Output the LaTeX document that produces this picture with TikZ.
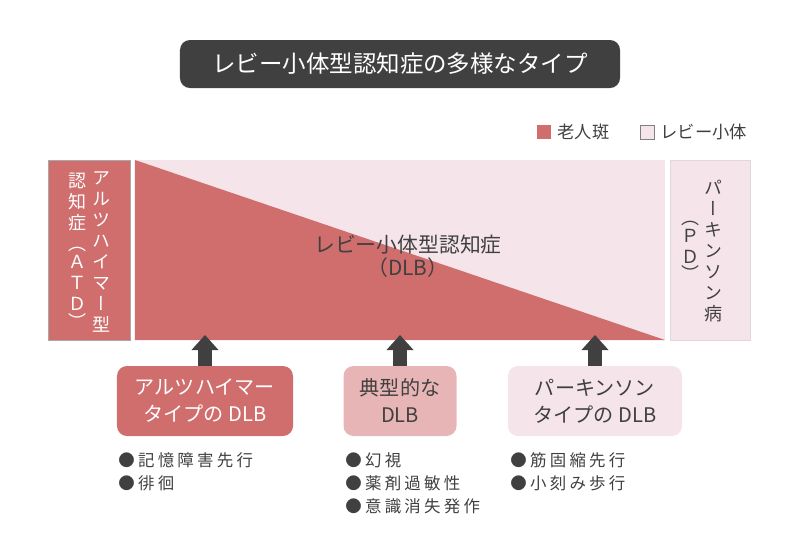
\documentclass[tikz,border=0pt]{standalone}
\usepackage{fontspec}
\setmainfont{Noto Sans CJK JP}
\newfontfamily\vertfont[RawFeature=+vert]{Noto Sans CJK JP}
\newfontfamily\listfont[LetterSpace=20]{Noto Sans CJK JP}
\usetikzlibrary{arrows.meta, positioning, calc}
\definecolor{lewyred}{HTML}{D06D6D}
\definecolor{lewypink}{HTML}{F5E5EA}
\definecolor{lewymid}{HTML}{E8B5B6}
\definecolor{inkgray}{HTML}{404040}
\definecolor{edgegray}{HTML}{A8A8A8}

\begin{document}
\begin{tikzpicture}[
    x=0.25mm, y=-0.25mm,
    titlebox/.style={rectangle, rounded corners=2.5mm, fill=inkgray, text=white,
                     minimum width=110mm, minimum height=12mm, font=\fontsize{16.7}{20}\selectfont},
    sidebox/.style={rectangle, draw=#1!80!gray, fill=#1, minimum width=20.5mm,
                    minimum height=45mm, inner sep=0pt, outer sep=0pt},
    vtext/.style={align=center, inner sep=0pt, font=\vertfont\fontsize{12.8}{14.9}\selectfont},
    typebox/.style={rectangle, rounded corners=2.5mm, fill=#1, minimum height=17.5mm,
                    align=center, font=\fontsize{14.3}{19.2}\selectfont},
    symptoms/.style={anchor=north west, align=left, inner sep=0pt, text=inkgray,
                     font=\listfont\fontsize{11.7}{16.6}\selectfont},
    legkey/.style={rectangle, minimum size=3.5mm, inner sep=0pt, fill=#1},
    legtext/.style={anchor=west, inner sep=0pt, text=inkgray, font=\fontsize{12.3}{14}\selectfont},
    uparrow/.style={-{Triangle[width=6.75mm, length=3.75mm, line width=0pt]},
                    line width=3.5mm, draw=inkgray}
]
    \useasboundingbox (0,0) rectangle (800,550);

    % Title
    \node[titlebox] (title) at (400,64) {レビー小体型認知症の多様なタイプ};

    % Legend
    \node[legkey=lewyred] (keyplaque) at (544,132) {};
    \node[legtext, right=1.5mm of keyplaque] (txtplaque) {老人斑};
    \node[legkey=lewypink, draw=gray] (keylewy) at (647,132) {};
    \node[legtext, right=1.5mm of keylewy] (txtlewy) {レビー小体};

    % Spectrum
    \node[sidebox=lewyred, draw=edgegray] (atd) at (89,250) {};
    \node[rectangle, fill=lewypink, minimum width=132.5mm, minimum height=45mm,
          inner sep=0pt, outer sep=0pt] (dlb) at (400,250) {};
    \fill[lewyred] (dlb.north west) -- (dlb.south east) -- (dlb.south west) -- cycle;
    \node[sidebox=lewypink, draw=lewypink!85!gray, minimum width=20mm] (pd) at (710,250) {};

    \node[vtext, text=white] (atdname) at (101,252) {ア\\ル\\ツ\\ハ\\イ\\マ\\ー\\型};
    \node[vtext, text=white] (atdabbr) at (77,251) {認\\知\\症\\（\\[-2pt]Ａ\\Ｔ\\Ｄ\\[-2pt]）};
    \node[align=center, text=inkgray, font=\fontsize{14.8}{16.6}\selectfont] (dlblabel)
        at (408,256) {レビー小体型認知症\\（DLB）};
    \node[vtext, text=inkgray] (pdname) at (713,251) {パ\\ー\\キ\\ン\\ソ\\ン\\病};
    \node[vtext, text=inkgray] (pdabbr) at (690,251) {（\\[-2.5pt]Ｐ\\Ｄ\\[-2.5pt]）};

    % DLB types
    \node[typebox=lewyred, text=white, minimum width=44mm] (adtype) at (205,401)
        {アルツハイマー\\タイプの DLB};
    \node[typebox=lewymid, text=inkgray, minimum width=28.25mm] (puretype) at (400,401)
        {典型的な\\DLB};
    \node[typebox=lewypink, text=inkgray, minimum width=43.5mm] (pdtype) at (595,401)
        {パーキンソン\\タイプの DLB};

    % Arrows
    \draw[uparrow] (adtype.north) -- ($(adtype.north |- dlb.south)+(0,-5)$);
    \draw[uparrow] (puretype.north) -- ($(puretype.north |- dlb.south)+(0,-5)$);
    \draw[uparrow] (pdtype.north) -- ($(pdtype.north |- dlb.south)+(0,-5)$);

    % Symptoms
    \node[symptoms] (adsym) at (118,452) {●記憶障害先行\\●徘徊};
    \node[symptoms] (puresym) at (345,452) {●幻視\\●薬剤過敏性\\●意識消失発作};
    \node[symptoms] (pdsym) at (510,452) {●筋固縮先行\\●小刻み歩行};
\end{tikzpicture}
\end{document}
